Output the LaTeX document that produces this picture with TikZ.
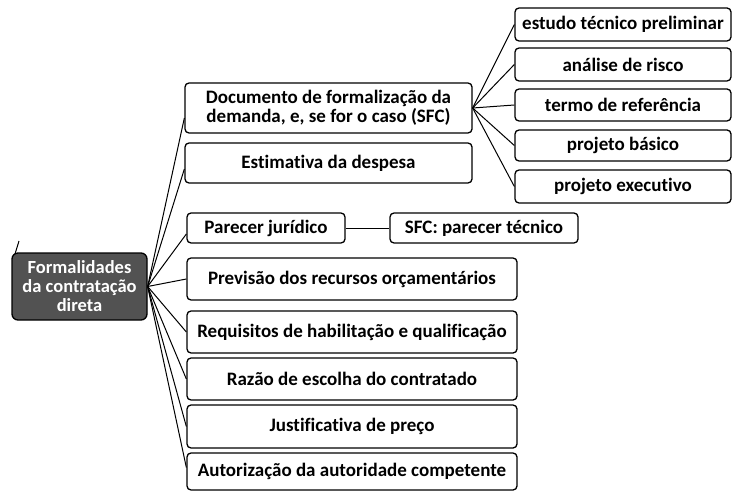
\documentclass[tikz,border=0pt]{standalone}
\usepackage{fontspec}
\setmainfont{Carlito}[Ligatures=NoCommon]
\begin{document}
\begin{tikzpicture}[x=1pt,y=-1pt,
  box/.style={draw=black,line width=1.3pt,rounded corners=4pt,fill=white,
    inner sep=0pt,align=center,font=\bfseries\fontsize{19}{19.5}\selectfont},
  subbox/.style={box,minimum width=216pt},
  mainbox/.style={box,minimum width=330pt},
  rootbox/.style={draw=black,line width=1.3pt,rounded corners=6pt,fill=black!68,
    text=white,inner sep=0pt,align=center,minimum width=135pt,minimum height=67pt,
    font=\bfseries\fontsize{18.5}{19}\selectfont},
  link/.style={draw=black,line width=1pt}]
\useasboundingbox (0,0) rectangle (734,492);
% root
\node[rootbox] (root) at (79.5,286.5) {Formalidades\\da contratação\\direta};
% main branches
\node[box,minimum width=287pt,minimum height=50pt] (doc) at (328.5,108) {Documento de formalização da\\demanda, e, se for o caso (SFC)};
\node[box,minimum width=287pt,minimum height=40pt] (est) at (328.5,163) {Estimativa da despesa};
\node[box,minimum width=158pt,minimum height=30pt] (par) at (266,228) {Parecer jurídico};
\node[box,minimum width=188pt,minimum height=30pt] (sfc) at (484,228) {SFC: parecer técnico};
\node[mainbox,minimum height=42pt] (prev) at (352,279) {Previsão dos recursos orçamentários};
\node[mainbox,minimum height=42pt] (req) at (352,332) {Requisitos de habilitação e qualificação};
\node[mainbox,minimum height=42pt] (raz) at (352,379) {Razão de escolha do contratado};
\node[mainbox,minimum height=43pt] (jus) at (352,426.5) {Justificativa de preço};
\node[mainbox,minimum height=37pt] (aut) at (352,471.5) {Autorização da autoridade competente};
% sub branches
\node[subbox,minimum height=33pt] (etp) at (623,24.5) {estudo técnico preliminar};
\node[subbox,minimum height=33pt] (ana) at (623,64.5) {análise de risco};
\node[subbox,minimum height=32pt] (ter) at (623,105) {termo de referência};
\node[subbox,minimum height=31pt] (bas) at (623,145.5) {projeto básico};
\node[subbox,minimum height=33pt] (exe) at (623,186.5) {projeto executivo};
% stray stroke above root
\coordinate (s1) at (15,254);
\coordinate (s2) at (19,241);
\draw[link] (s1) -- (s2);
% connectors from root
\draw[link] (root.east) -- ([yshift=-10pt]doc.west);
\draw[link] (root.east) -- ([yshift=-6pt]est.west);
\draw[link] (root.east) -- ([yshift=-6pt]par.west);
\draw[link] (root.east) -- (prev.west);
\draw[link] (root.east) -- (req.west);
\draw[link] (root.east) -- (raz.west);
\draw[link] (root.east) -- (jus.west);
\draw[link] (root.east) -- ([yshift=4pt]aut.west);
% connectors from documento
\draw[link] (doc.east) -- (etp.west);
\draw[link] (doc.east) -- (ana.west);
\draw[link] (doc.east) -- (ter.west);
\draw[link] (doc.east) -- (bas.west);
\draw[link] (doc.east) -- (exe.west);
\draw[link] (par.east) -- (sfc.west);
\end{tikzpicture}
\end{document}
